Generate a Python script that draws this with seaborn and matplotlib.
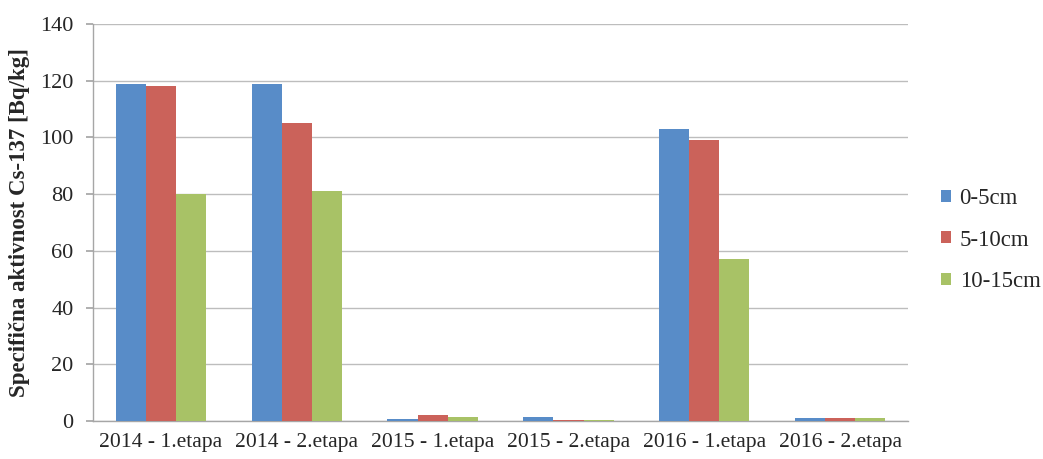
import matplotlib
matplotlib.use("Agg")
import matplotlib.pyplot as plt
import pandas as pd
import seaborn as sns

categories = ["2014 - 1.etapa", "2014 - 2.etapa", "2015 - 1.etapa",
              "2015 - 2.etapa", "2016 - 1.etapa", "2016 - 2.etapa"]
depths = ["0-5cm", "5-10cm", "10-15cm"]
vals_0_5 = [119, 119, 0.8, 1.3, 103, 1.2]
vals_5_10 = [118, 105, 2.1, 0.5, 99, 1.2]
vals_10_15 = [80, 81, 1.3, 0.4, 57, 1.2]

df = pd.DataFrame({
    "etapa": categories * 3,
    "depth": [d for d in depths for _ in categories],
    "value": vals_0_5 + vals_5_10 + vals_10_15,
})

sns.set_theme(style="white")
plt.rcParams["font.family"] = ["Liberation Serif", "DejaVu Serif"]

fig = plt.figure(figsize=(10.43, 4.59), dpi=100)
ax = fig.add_axes([0.0892, 0.0828, 0.7814, 0.8649])

palette = ["#588CC8", "#CB625A", "#A8C266"]
sns.barplot(data=df, x="etapa", y="value", hue="depth", hue_order=depths,
            order=categories, palette=palette, width=0.665, saturation=1,
            linewidth=0, ax=ax, zorder=3)

ax.set_ylim(0, 140)
ax.set_yticks(range(0, 141, 20))
ax.yaxis.grid(True, color="#BDBDBD", linewidth=1, zorder=0)
ax.set_axisbelow(True)
for s in ["top", "right"]:
    ax.spines[s].set_visible(False)
for s in ["left", "bottom"]:
    ax.spines[s].set_color("#A6A6A6")
    ax.spines[s].set_linewidth(1)
ax.tick_params(axis="y", length=5, color="#A6A6A6", labelsize=16, pad=9, left=True)
ax.tick_params(axis="x", length=0, labelsize=15.6, pad=9)
ax.set_xlabel("")
ax.set_ylabel("Specifična aktivnost Cs-137 [Bq/kg]", fontsize=16.5,
              fontweight="bold", labelpad=7)

ax.legend(loc="center left", bbox_to_anchor=(0.902, 0.477),
          bbox_transform=fig.transFigure, frameon=False, fontsize=16.5,
          handlelength=0.44, handleheight=0.44, labelspacing=0.9,
          handletextpad=0.38, borderpad=0, borderaxespad=0)

fig.savefig("out.png", dpi=100)
